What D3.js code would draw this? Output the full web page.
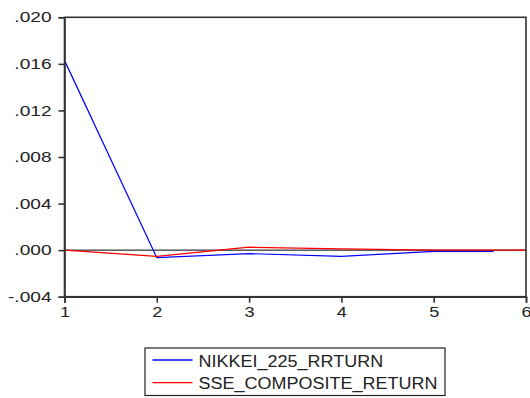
<!DOCTYPE html>
<html>
<head>
<meta charset="utf-8">
<script src="https://cdn.jsdelivr.net/npm/d3@7"></script>
<style>
  html, body { margin: 0; padding: 0; background: #fff; }
  svg { display: block; font-family: "Liberation Sans", Arial, sans-serif; }
</style>
</head>
<body>
<svg id="chart" width="530" height="398"></svg>
<script>
// Response periods and values for each series
const nikkeiPeriods = [1, 2, 3, 4, 5, 5.65];
const nikkeiValues = [0.0163, -0.00065, -0.0003, -0.00054, -0.0001, -0.0001];
const ssePeriods = [1, 2, 3, 4, 5, 6];
const sseValues = [0.0, -0.00054, 0.00025, 0.0001, 0.0, 0.0];
const yTicks = [-0.004, 0.000, 0.004, 0.008, 0.012, 0.016, 0.020];
const xTicks = [1, 2, 3, 4, 5, 6];
const seriesNames = ["NIKKEI_225_RRTURN", "SSE_COMPOSITE_RETURN"];
const seriesColors = ["#0000ff", "#ff0000"];

const svg = d3.select("#chart");
const margin = { left: 64.5, right: 4, top: 17.3, bottom: 101.3 };
const W = 530, H = 398;

const x = d3.scaleLinear().domain([1, 6]).range([margin.left, W - margin.right]);
const y = d3.scaleLinear().domain([-0.004, 0.020]).range([H - margin.bottom, margin.top]);

const fmt = v => {
  const s = Math.abs(v).toFixed(3).replace(/^0/, "");
  return (v < 0 ? "-" : "") + s;
};

// zero reference line
svg.append("line")
  .attr("x1", x(1)).attr("x2", x(6))
  .attr("y1", y(0)).attr("y2", y(0))
  .attr("stroke", "#000").attr("stroke-width", 1);

// series lines
const line = d3.line().x(d => x(d[0])).y(d => y(d[1]));
const series = [
  d3.zip(nikkeiPeriods, nikkeiValues),
  d3.zip(ssePeriods, sseValues)
];
series.forEach((pts, i) => {
  svg.append("path")
    .datum(pts)
    .attr("d", line)
    .attr("fill", "none")
    .attr("stroke", seriesColors[i])
    .attr("stroke-width", 1.2);
});

// frame
svg.append("rect")
  .attr("x", x(1)).attr("y", y(0.020))
  .attr("width", x(6) - x(1)).attr("height", y(-0.004) - y(0.020))
  .attr("fill", "none").attr("stroke", "#333").attr("stroke-width", 1.6);

// axes
const yAxis = d3.axisLeft(y).tickValues(yTicks).tickFormat(fmt).tickSize(6);
const xAxis = d3.axisBottom(x).tickValues(xTicks).tickFormat(d3.format("d")).tickSize(6).tickPadding(4);

const gy = svg.append("g").attr("transform", `translate(${x(1)},0)`).call(yAxis);
const gx = svg.append("g").attr("transform", `translate(0,${y(-0.004)})`).call(xAxis);
[gy, gx].forEach(g => {
  g.select(".domain").attr("stroke", "#333").attr("stroke-width", 1.6);
  g.selectAll(".tick line").attr("stroke", "#333").attr("stroke-width", 1.6);
  g.selectAll(".tick text").attr("fill", "#222").style("font-size", "14.5px")
    .style("font-family", "'Liberation Sans', Arial, sans-serif");
});
// wide tick lettering
gy.selectAll(".tick text").attr("x", -9.8).attr("transform", "scale(1.32,1)");
gx.selectAll(".tick text").attr("transform", "scale(1.25,1)")
  .attr("x", 0);
gx.selectAll(".tick").each(function () {
  // keep scaled labels centred on their tick
  d3.select(this).select("text").attr("transform", "scale(1.25,1)");
});

// legend
const legend = svg.append("g");
legend.append("rect")
  .attr("x", 145).attr("y", 348).attr("width", 300).attr("height", 47.5)
  .attr("fill", "#fff").attr("stroke", "#222").attr("stroke-width", 1.2);
seriesNames.forEach((name, i) => {
  const cy = 360 + i * 22.7;
  legend.append("line")
    .attr("x1", 152.5).attr("x2", 192.5).attr("y1", cy).attr("y2", cy)
    .attr("stroke", seriesColors[i]).attr("stroke-width", 1.3);
  legend.append("text")
    .attr("transform", `translate(198.5,${cy + 6.5}) scale(1.06,1)`)
    .attr("fill", "#222")
    .style("font-size", "17px")
    .text(name);
});
</script>
</body>
</html>
